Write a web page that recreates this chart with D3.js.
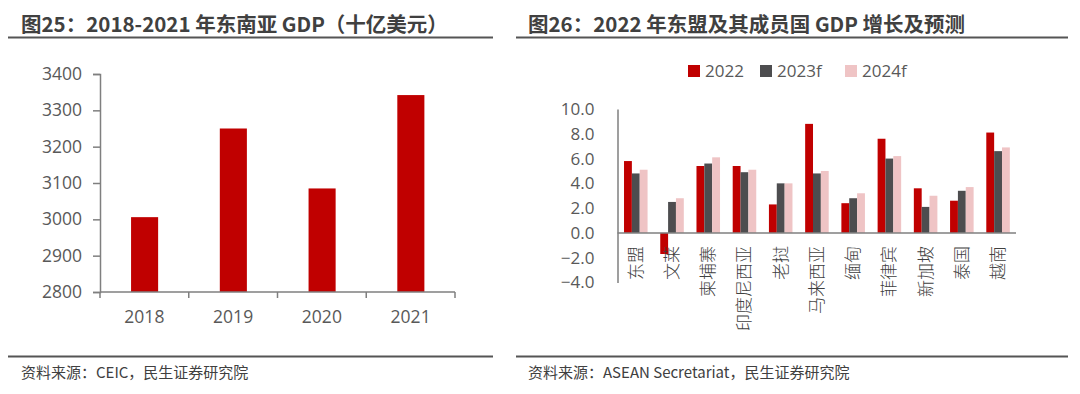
<!DOCTYPE html>
<html>
<head>
<meta charset="utf-8">
<script src="https://cdn.jsdelivr.net/npm/d3@7"></script>
<style>
  html, body { margin: 0; padding: 0; background: #fff; }
  svg { display: block; font-family: "Open Sans", "Noto Sans CJK SC", sans-serif; }
</style>
</head>
<body>
<div id="chart"></div>
<script>
// left chart data
const years = ["2018", "2019", "2020", "2021"];
const gdp = [3006, 3250, 3085, 3342];
const gdpTicks = [2800, 2900, 3000, 3100, 3200, 3300, 3400];

// right chart data
const countries = ["东盟", "文莱", "柬埔寨", "印度尼西亚", "老挝", "马来西亚", "缅甸", "菲律宾", "新加坡", "泰国", "越南"];
const seriesNames = ["2022", "2023f", "2024f"];
const g2022 = [5.8, -1.7, 5.4, 5.4, 2.3, 8.8, 2.4, 7.6, 3.6, 2.6, 8.1];
const g2023 = [4.8, 2.5, 5.6, 4.9, 4.0, 4.8, 2.8, 6.0, 2.1, 3.4, 6.6];
const g2024 = [5.1, 2.8, 6.1, 5.1, 4.0, 5.0, 3.2, 6.2, 3.0, 3.7, 6.9];
const growthTicks = [-4, -2, 0, 2, 4, 6, 8, 10];

const colors = ["#C00000", "#4D4D4F", "#EFC4C5"];
const textCol = "#595959";
const axisCol = "#7F7F7F";

const W = 1080, H = 394;
const svg = d3.select("#chart").append("svg").attr("width", W).attr("height", H);

// headers and footers
const panels = [
  {x1: 8, x2: 493, tx: 21, title: "图25：2018-2021 年东南亚 GDP（十亿美元）", src: "资料来源：CEIC，民生证券研究院"},
  {x1: 516, x2: 1068, tx: 528, title: "图26：2022 年东盟及其成员国 GDP 增长及预测", src: "资料来源：ASEAN Secretariat，民生证券研究院"}
];
panels.forEach(p => {
  svg.append("text")
    .attr("x", p.tx).attr("y", 32)
    .style("font-size", "20.5px").style("font-weight", "bold")
    .style("font-family", "'Noto Sans CJK SC', sans-serif")
    .attr("fill", "#404040")
    .text(p.title);
  svg.append("line")
    .attr("x1", p.x1).attr("x2", p.x2).attr("y1", 37.5).attr("y2", 37.5)
    .attr("stroke", "#555").attr("stroke-width", 2);
  svg.append("line")
    .attr("x1", p.x1).attr("x2", p.x2).attr("y1", 356.5).attr("y2", 356.5)
    .attr("stroke", "#555").attr("stroke-width", 2);
  svg.append("text")
    .attr("x", p.tx).attr("y", 378)
    .style("font-size", "15px")
    .style("font-family", "'Noto Sans CJK SC', sans-serif")
    .attr("fill", "#404040")
    .text(p.src);
});

// ---- left: GDP bars
const xL = d3.scaleBand().domain(years).range([100, 455]);
const yL = d3.scaleLinear().domain([2800, 3400]).range([292, 74]);
const left = svg.append("g");

left.selectAll("rect.gdp")
  .data(years)
  .join("rect")
  .attr("class", "gdp")
  .attr("x", d => xL(d) + xL.bandwidth() * 0.35)
  .attr("width", xL.bandwidth() * 0.305)
  .attr("y", (d, i) => yL(gdp[i]))
  .attr("height", (d, i) => yL(2800) - yL(gdp[i]))
  .attr("fill", colors[0]);

const yAxisL = left.append("g")
  .attr("transform", "translate(100,0)")
  .call(d3.axisLeft(yL).tickValues(gdpTicks).tickSize(7).tickPadding(11).tickFormat(d3.format("d")));
yAxisL.select(".domain").attr("stroke", axisCol).attr("stroke-width", 1.5);
yAxisL.selectAll(".tick line").attr("stroke", axisCol).attr("stroke-width", 1.5);
yAxisL.selectAll(".tick text").attr("fill", textCol).style("font-size", "17.5px").style("font-family", "'Open Sans', sans-serif");

const xAxisL = left.append("g").attr("transform", "translate(0,292)");
xAxisL.append("line")
  .attr("x1", xL.range()[0]).attr("x2", xL.range()[1])
  .attr("stroke", axisCol).attr("stroke-width", 1.5);
xAxisL.selectAll("line.tk")
  .data(years.concat(["end"]))
  .join("line")
  .attr("class", "tk")
  .attr("x1", (d, i) => xL.range()[0] + i * xL.step())
  .attr("x2", (d, i) => xL.range()[0] + i * xL.step())
  .attr("y1", 0).attr("y2", 6)
  .attr("stroke", axisCol).attr("stroke-width", 1.5);
xAxisL.selectAll("text")
  .data(years)
  .join("text")
  .attr("x", d => xL(d) + xL.bandwidth() / 2)
  .attr("y", 31)
  .attr("text-anchor", "middle")
  .attr("fill", textCol)
  .style("font-size", "17.5px")
  .text(d => d);

// ---- right: growth grouped bars
const xR = d3.scaleBand().domain(countries).range([617.5, 1016]);
const yR = d3.scaleLinear().domain([-4, 10]).range([282.5, 109]);
const inner = d3.scaleBand().domain(seriesNames).range([0, xR.bandwidth() * 0.65]);
const series = [g2022, g2023, g2024];
const right = svg.append("g");

seriesNames.forEach((s, si) => {
  right.selectAll("rect.s" + si)
    .data(countries)
    .join("rect")
    .attr("class", "s" + si)
    .attr("x", d => xR(d) + xR.bandwidth() * 0.18 + inner(s))
    .attr("width", inner.bandwidth())
    .attr("y", (d, i) => yR(Math.max(0, series[si][i])))
    .attr("height", (d, i) => Math.abs(yR(series[si][i]) - yR(0)))
    .attr("fill", colors[si]);
});

const yAxisR = right.append("g")
  .attr("transform", "translate(617.5,0)")
  .call(d3.axisLeft(yR).tickValues(growthTicks).tickSize(0).tickPadding(23).tickFormat(d3.format(".1f")));
yAxisR.select(".domain").attr("stroke", axisCol).attr("stroke-width", 1.5);
yAxisR.selectAll(".tick text").attr("fill", textCol).style("font-size", "17px").style("font-family", "'Open Sans', sans-serif");

right.append("line")
  .attr("x1", xR.range()[0]).attr("x2", xR.range()[1])
  .attr("y1", yR(0)).attr("y2", yR(0))
  .attr("stroke", axisCol).attr("stroke-width", 1.5);

// category labels rotated -90 (read bottom to top)
right.selectAll("text.cat")
  .data(countries)
  .join("text")
  .attr("class", "cat")
  .attr("transform", d => `translate(${xR(d) + xR.bandwidth() / 2},${yR(0) + 13}) rotate(-90)`)
  .attr("text-anchor", "end")
  .attr("dy", "0.36em")
  .style("font-size", "17px")
  .style("font-family", "'Noto Sans CJK SC', sans-serif")
  .style("font-weight", 300)
  .attr("fill", "#404040")
  .text(d => d);

// legend
const legendX = [688, 760, 845];
const legend = right.selectAll("g.lg")
  .data(seriesNames)
  .join("g")
  .attr("class", "lg")
  .attr("transform", (d, i) => `translate(${legendX[i]},71)`);
legend.append("rect")
  .attr("x", 0).attr("y", -6).attr("width", 12).attr("height", 12)
  .attr("fill", (d, i) => colors[i]);
legend.append("text")
  .attr("x", 17).attr("y", 0).attr("dy", "0.35em")
  .attr("fill", textCol)
  .style("font-size", "17px")
  .text(d => d);
</script>
</body>
</html>
